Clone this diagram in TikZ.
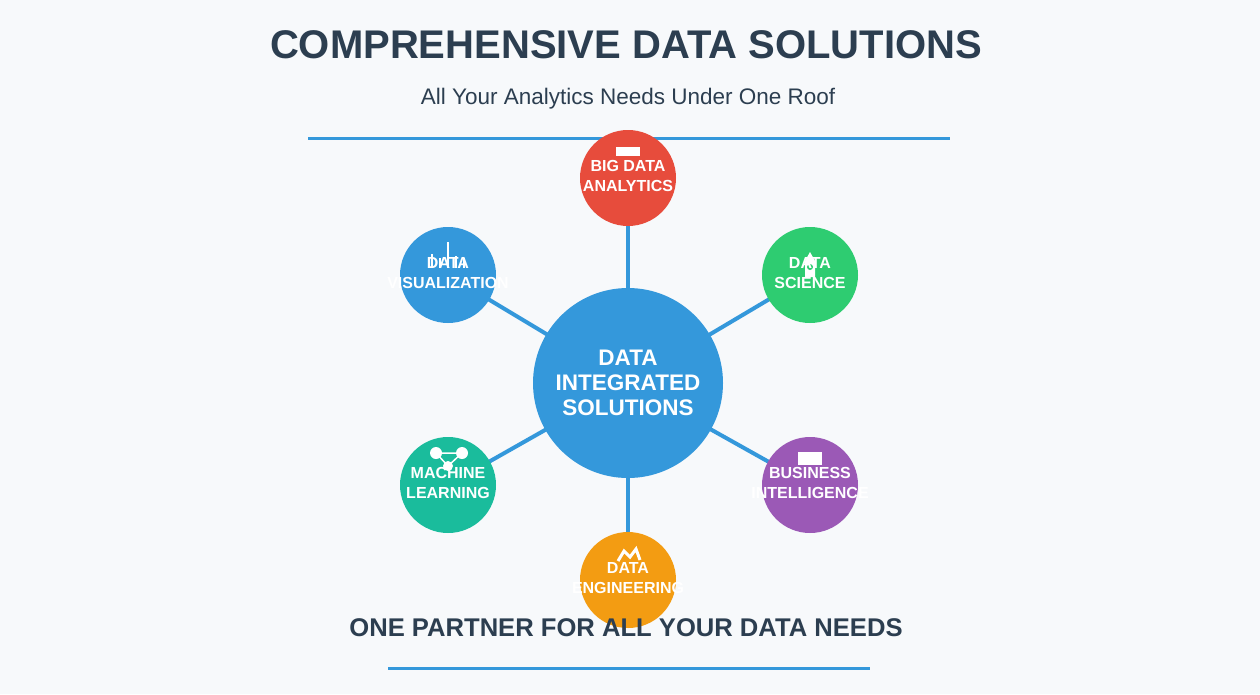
\documentclass[tikz,border=0pt]{standalone}
\usepackage{fontspec}
\setmainfont{Liberation Sans}
\begin{document}
\begin{tikzpicture}[x=1pt,y=-1pt,
  sat/.style={circle,minimum size=96pt,inner sep=0pt,text=white,font=\bfseries\fontsize{16}{20}\selectfont,align=center},
  link/.style={line width=4pt,draw=cblue},
  rule/.style={line width=3pt,draw=cblue},
  icon/.style={fill=white,draw=none}]
\definecolor{cblue}{HTML}{3498DB}
\definecolor{dark}{HTML}{2C3E50}
\definecolor{bg}{HTML}{F7F9FB}
\definecolor{cred}{HTML}{E74C3C}
\definecolor{cgreen}{HTML}{2ECC71}
\definecolor{cteal}{HTML}{1ABC9C}
\definecolor{cpurple}{HTML}{9B59B6}
\definecolor{corange}{HTML}{F39C12}
\fill[bg] (0,0) rectangle (1260,694);
\useasboundingbox (0,0) rectangle (1260,694);
\node[text=dark,font=\bfseries\fontsize{40}{44}\selectfont] (title) at (626,45) {COMPREHENSIVE DATA SOLUTIONS};
\node[text=dark,font=\fontsize{22.5}{26}\selectfont] (sub) at (628,99) {All Your Analytics Needs Under One Roof};
\coordinate (l1a) at (308,138); \coordinate (l1b) at (950,138);
\draw[rule] (l1a) -- (l1b);
\node[circle,minimum size=190pt,inner sep=0pt] (c) at (628,383) {};
\node[sat] (bd) at (628,178) {};
\node[sat] (dv) at (448,275) {};
\node[sat] (ds) at (810,275) {};
\node[sat] (ml) at (448,485) {};
\node[sat] (bi) at (810,485) {};
\node[sat] (de) at (628,580) {};
\foreach \n in {bd,dv,ds,ml,bi,de} \draw[link] (c.center) -- (\n.center);
\fill[cblue] (c) circle (95);
\fill[cred] (bd) circle (48);
\fill[cblue] (dv) circle (48);
\fill[cgreen] (ds) circle (48);
\fill[cteal] (ml) circle (48);
\fill[cpurple] (bi) circle (48);
\fill[corange] (de) circle (48);
% icons
\fill[icon] (616,147) rectangle (640,156);
\foreach \x/\h in {432/14,440/10,448/26,456/12,464/10} \fill[icon] (\x-1,268) rectangle (\x+1,268-\h);
\fill[icon] (810,252) -- (815,261) -- (815,277) -- (805,277) -- (805,261) -- cycle;
\fill[cgreen] (810,267) circle (3);
\draw[white,line width=1.5pt] (436,453) -- (462,453) -- (448,466) -- cycle;
\fill[icon] (436,453) circle (6); \fill[icon] (462,453) circle (6); \fill[icon] (448,466) circle (5);
\fill[icon] (798,452) rectangle (822,465);
\draw[white,line width=3pt,line join=miter] (618,561) -- (624,551) -- (630,557) -- (636,549) -- (640,560);
% texts
\node[text=white,font=\bfseries\fontsize{22.5}{25}\selectfont,align=center] at (c) {DATA\\INTEGRATED\\SOLUTIONS};
\node[sat] at ([yshift=2]bd) {BIG DATA\\ANALYTICS};
\node[sat] at ([yshift=2]dv) {DATA\\VISUALIZATION};
\node[sat] at ([yshift=2]ds) {DATA\\SCIENCE};
\node[sat] at ([yshift=2]ml) {MACHINE\\LEARNING};
\node[sat] at ([yshift=2]bi) {BUSINESS\\INTELLIGENCE};
\node[sat] at ([yshift=2]de) {DATA\\ENGINEERING};
\node[text=dark,font=\bfseries\fontsize{25.6}{30}\selectfont] (foot) at (626,628) {ONE PARTNER FOR ALL YOUR DATA NEEDS};
\coordinate (l2a) at (388,668); \coordinate (l2b) at (870,668);
\draw[rule] (l2a) -- (l2b);
\end{tikzpicture}
\end{document}
